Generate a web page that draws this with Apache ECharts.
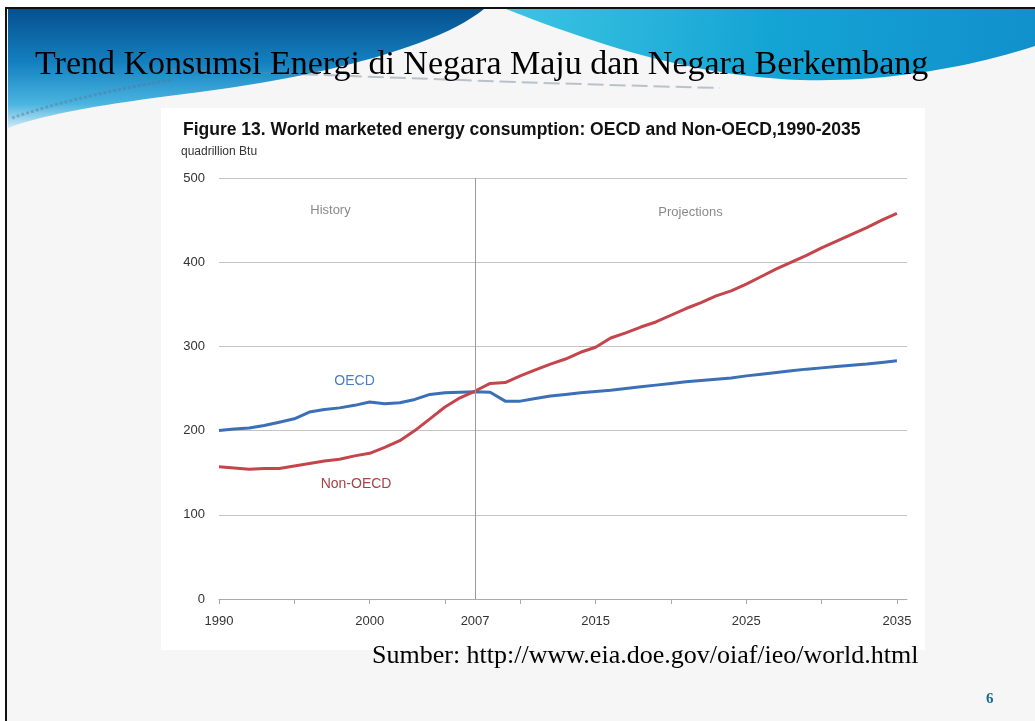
<!DOCTYPE html>
<html><head><meta charset="utf-8">
<script src="https://cdn.jsdelivr.net/npm/echarts@6/dist/echarts.min.js"></script>
<style>html,body{margin:0;padding:0;background:#fff}#c{width:1035px;height:721px}</style>
</head><body><div id="c"></div>
<script>
const years = [1990,1991,1992,1993,1994,1995,1996,1997,1998,1999,
  2000,2001,2002,2003,2004,2005,2006,2007,2008,2009,
  2010,2011,2012,2013,2014,2015,2016,2017,2018,2019,
  2020,2021,2022,2023,2024,2025,2026,2027,2028,2029,
  2030,2031,2032,2033,2034,2035];
const oecd = [200,202,203,206,210,214,222,225,227,230,
  234,232,233,237,243,245,245.5,246,245.5,235,
  235,238,241,243,245,246.5,248,250,252,254,
  256,258,259.5,261,262.5,265,267,269,271,273,
  274.5,276,277.5,279,281,283];
const nonOecd = [157,155.5,154,155,155,158,161,164,166,170,
  173,180,188,200,214,228,239,247,256,257,
  265,272,279,285,293,299,310,316,323,329,
  337,345,352,360,366,374,383,392,400,408,
  417,425,433,441,450,458];
const xLabelYears = [1990,2000,2007,2015,2025,2035];
const xTickYears = [1990,1995,2000,2005,2010,2015,2020,2025,2030,2035];
const dividerYear = 2007;
const seriesNames = ['OECD','Non-OECD'];
const periodLabels = ['History','Projections'];
const slideTitle = 'Trend Konsumsi Energi di Negara Maju dan Negara Berkembang';
const figureTitle = 'Figure 13. World marketed energy consumption: OECD and Non-OECD,1990-2035';
const unitLabel = 'quadrillion Btu';
const sourceText = 'Sumber: http://www.eia.doe.gov/oiaf/ieo/world.html';
const pageNumber = '6';

const zip = (a, b) => a.map((v, i) => [v, b[i]]);
// decorative outline helper: start point followed by line points [x,y] or cubic segments [[c1],[c2],[end]]
function outline(start, segs) {
  const pts = [start];
  let cur = start;
  segs.forEach(s => {
    if (typeof s[0] === 'number') { pts.push(s); cur = s; return; }
    const [c1, c2, e] = s;
    for (let i = 1; i <= 24; i++) {
      const t = i / 24, u = 1 - t;
      pts.push([
        u*u*u*cur[0] + 3*u*u*t*c1[0] + 3*u*t*t*c2[0] + t*t*t*e[0],
        u*u*u*cur[1] + 3*u*u*t*c1[1] + 3*u*t*t*c2[1] + t*t*t*e[1]
      ]);
    }
    cur = e;
  });
  return pts;
}
const chart = echarts.init(document.getElementById('c'), null, {renderer: 'canvas'});
const SANS = '"Liberation Sans", Arial, sans-serif';
const SERIF = '"Liberation Serif", "DejaVu Serif", serif';

const option = {
  animation: false,
  backgroundColor: '#ffffff',
  graphic: [
    {type: 'rect', z: -20, shape: {x: 7, y: 8, width: 1030, height: 715}, style: {fill: '#f6f6f6'}},
    {type: 'polygon', z: -19, shape: {points: outline([8, 9], [[484, 9], [[440, 45], [330, 75], [200, 92]], [[120, 102], [50, 112], [8, 128]]])},
      style: {fill: new echarts.graphic.LinearGradient(0, 0, 0, 1, [{offset: 0, color: '#06508e'}, {offset: 0.45, color: '#1480c0'}, {offset: 0.8, color: '#4ab5e0'}, {offset: 1, color: '#cfeaf6'}])}},
    {type: 'polygon', z: -19, shape: {points: outline([506, 9], [[1035, 9], [1035, 46], [[960, 70], [880, 82], [800, 80]], [[700, 76], [610, 50], [506, 9]]])},
      style: {fill: new echarts.graphic.LinearGradient(0, 0, 1, 1, [{offset: 0, color: '#3cc4e2'}, {offset: 0.5, color: '#14a4d4'}, {offset: 1, color: '#1190cc'}])}},
    {type: 'bezierCurve', z: -18, shape: {x1: 170, y1: 70, cpx1: 320, cpy1: 74, cpx2: 480, cpy2: 82, x2: 720, y2: 88},
      style: {fill: null, stroke: 'rgba(110,130,150,0.45)', lineWidth: 2, lineDash: [16, 6]}},
    {type: 'bezierCurve', z: -18, shape: {x1: 12, y1: 118, cpx1: 50, cpy1: 105, cpx2: 100, cpy2: 92, x2: 170, y2: 80},
      style: {fill: null, stroke: 'rgba(90,120,150,0.45)', lineWidth: 3, lineDash: [3, 2]}},
    {type: 'rect', z: -18, shape: {x: 5, y: 7, width: 1035, height: 2}, style: {fill: '#111'}},
    {type: 'rect', z: -18, shape: {x: 5, y: 7, width: 2, height: 720}, style: {fill: '#111'}},
    {type: 'rect', z: -17, shape: {x: 161, y: 108, width: 764, height: 542}, style: {fill: '#ffffff'}},
    {type: 'text', z: 5, left: 35, top: 48, style: {text: slideTitle, font: '34px ' + SERIF, fill: '#000'}},
    {type: 'text', z: 5, left: 183, top: 121, style: {text: figureTitle, font: 'bold 17.5px ' + SANS, fill: '#111'}},
    {type: 'text', z: 5, left: 181, top: 146, style: {text: unitLabel, font: '12px ' + SANS, fill: '#333'}},
    {type: 'text', z: 5, left: 372, top: 643, style: {text: sourceText, font: '26px ' + SERIF, fill: '#000'}},
    {type: 'text', z: 5, left: 986, top: 692, style: {text: pageNumber, font: 'bold 15px ' + SERIF, fill: '#1b6c8e'}}
  ],
  grid: {left: 219, right: 128, top: 178, bottom: 122, containLabel: false},
  xAxis: {
    type: 'value', min: 1990, max: 2035.67,
    axisLine: {show: true, lineStyle: {color: '#aaaaaa', width: 1}},
    axisTick: {show: true, customValues: xTickYears, length: 5, lineStyle: {color: '#aaaaaa'}},
    axisLabel: {customValues: xLabelYears, color: '#333', fontSize: 13, fontFamily: SANS, margin: 16, formatter: v => String(v)},
    splitLine: {show: false}
  },
  yAxis: {
    type: 'value', min: 0, max: 500, interval: 100,
    axisLine: {show: false}, axisTick: {show: false},
    axisLabel: {color: '#333', fontSize: 13, fontFamily: SANS, margin: 14},
    splitLine: {lineStyle: {color: '#c4c4c4', width: 1}}
  },
  series: [
    {
      name: seriesNames[0], type: 'line', data: zip(years, oecd), showSymbol: false,
      lineStyle: {color: '#3b70b6', width: 3}, itemStyle: {color: '#3b70b6'}, z: 3,
      markLine: {silent: true, symbol: 'none', label: {show: false}, lineStyle: {color: '#9a9a9a', type: 'solid', width: 1},
        data: [{xAxis: dividerYear}]},
      markPoint: {symbol: 'circle', symbolSize: 0, silent: true,
        label: {show: true, position: 'inside', fontFamily: SANS},
        data: [
          {coord: [1999, 259], label: {formatter: seriesNames[0], color: '#4a7fbf', fontSize: 14}},
          {coord: [1997.4, 462], label: {formatter: periodLabels[0], color: '#8a8a8a', fontSize: 13}},
          {coord: [2021.3, 459.5], label: {formatter: periodLabels[1], color: '#8a8a8a', fontSize: 13}}
        ]}
    },
    {
      name: seriesNames[1], type: 'line', data: zip(years, nonOecd), showSymbol: false,
      lineStyle: {color: '#c4454b', width: 3}, itemStyle: {color: '#c4454b'}, z: 4,
      markPoint: {symbol: 'circle', symbolSize: 0, silent: true,
        label: {show: true, position: 'inside', fontFamily: SANS},
        data: [
          {coord: [1999.1, 136.5], label: {formatter: seriesNames[1], color: '#a54446', fontSize: 14}}
        ]}
    }
  ]
};
chart.setOption(option);
</script>
</body></html>
